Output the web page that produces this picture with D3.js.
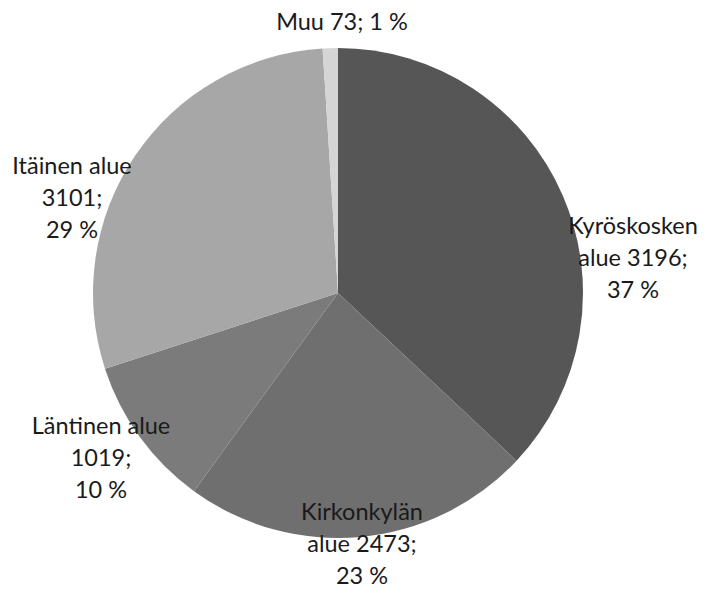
<!DOCTYPE html>
<html>
<head>
<meta charset="utf-8">
<script src="https://cdn.jsdelivr.net/npm/d3@7"></script>
<style>
  body { margin: 0; background: #fff; }
  text { font-family: Lato, "Open Sans", sans-serif; fill: #1a1a1a; }
</style>
</head>
<body>
<svg></svg>
<script>
// areas, clockwise from 12 o'clock
var categories = ["Kyröskosken alue", "Kirkonkylän alue", "Läntinen alue", "Itäinen alue", "Muu"];
var counts = [3196, 2473, 1019, 3101, 73];
var percents = [37, 23, 10, 29, 1];   // slice sizes follow the printed shares

// label text lines per slice
var labelLines = [
    ["Kyröskosken", "alue 3196;", "37 %"],
    ["Kirkonkylän", "alue 2473;", "23 %"],
    ["Läntinen alue", "1019;", "10 %"],
    ["Itäinen alue", "3101;", "29 %"],
    ["Muu 73; 1 %"]
];

var width = 706, height = 593;
var cx = 338, cy = 293, radius = 245;
var colors = ["#565656", "#6f6f6f", "#7b7b7b", "#a7a7a7", "#d5d5d5"];

// label anchor (centre of first line), placed like Excel's best fit
var labelPos = [[633, 226], [362, 512], [101, 426], [72, 166], [342, 22]];
var lineHeight = 32;

var svg = d3.select("svg")
    .attr("width", width)
    .attr("height", height);

var pie = d3.pie().sort(null).value(function(d) { return d; });
var arc = d3.arc().innerRadius(0).outerRadius(radius);

var g = svg.append("g")
    .attr("transform", "translate(" + cx + "," + cy + ")");

g.selectAll("path")
    .data(pie(percents))
    .enter()
    .append("path")
    .attr("d", arc)
    .attr("fill", function(d, i) { return colors[i]; });

var labels = svg.selectAll("text.lbl")
    .data(labelLines)
    .enter()
    .append("text")
    .attr("class", "lbl")
    .attr("text-anchor", "middle")
    .attr("font-size", 23.5)
    .attr("x", function(d, i) { return labelPos[i][0]; })
    .attr("y", function(d, i) { return labelPos[i][1]; });

labels.each(function(lines, i) {
    d3.select(this).selectAll("tspan")
        .data(lines)
        .enter()
        .append("tspan")
        .attr("x", labelPos[i][0])
        .attr("dy", function(d, j) { return j === 0 ? "0.35em" : lineHeight; })
        .text(function(d) { return d; });
});
</script>
</body>
</html>
